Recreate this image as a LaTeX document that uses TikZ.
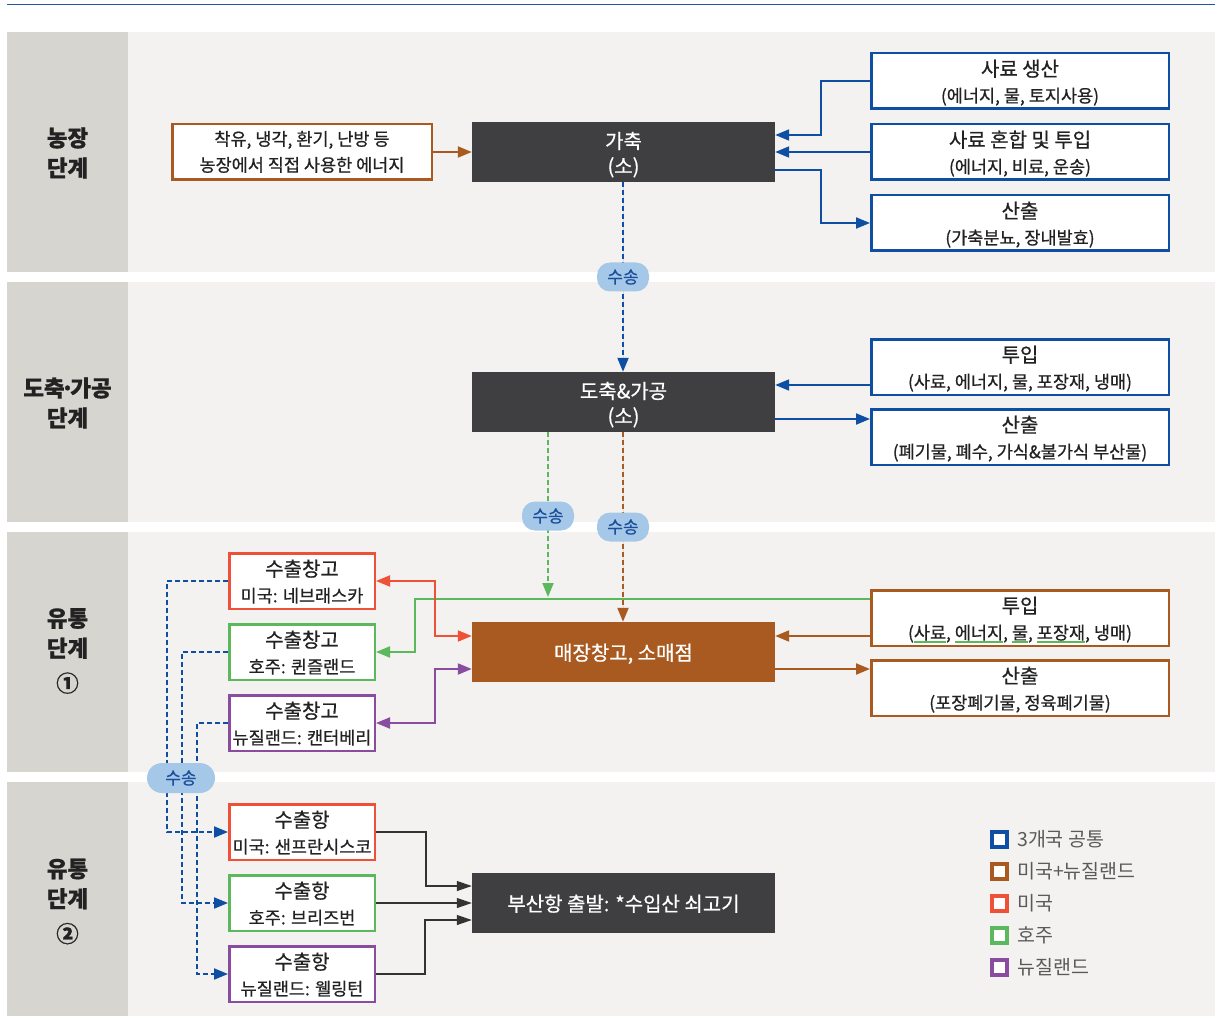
\documentclass[tikz,border=0pt]{standalone}
\usepackage{fontspec}
\setmainfont{Noto Sans CJK KR}[FakeBold=0.6]
\newfontfamily\lblfont{Noto Sans CJK KR}
\usetikzlibrary{arrows.meta}
\definecolor{cblue}{HTML}{0E4FA3}
\definecolor{cbrown}{HTML}{A95A20}
\definecolor{cred}{HTML}{EF5138}
\definecolor{cgreen}{HTML}{5CB85C}
\definecolor{cpurple}{HTML}{8A4C9E}
\definecolor{cdark}{HTML}{3F3F41}
\definecolor{lblbg}{HTML}{D7D5D0}
\definecolor{bandbg}{HTML}{F3F2F0}
\definecolor{pillbg}{HTML}{A6C8E8}
\definecolor{pilltx}{HTML}{1B4F9B}
\definecolor{topline}{HTML}{1F57A0}
\definecolor{txt}{HTML}{222222}
\definecolor{legtx}{HTML}{5A5A5A}
\newsavebox\gulbox
\newcommand\gul[1]{\sbox\gulbox{#1}\rlap{\textcolor{cgreen}{\rule[-4pt]{\wd\gulbox}{2.5pt}}}\usebox\gulbox}
\newcommand\ttl[1]{{\fontsize{20}{26}\selectfont\rule{0pt}{21.5pt}#1}}
\newcommand\bstrut{\rule[-5pt]{0pt}{5pt}}
\tikzset{
  wbox/.style={draw, line width=2.5pt, fill=white, align=center, inner sep=0pt, text=txt,
    font=\fontsize{17.5}{26}\selectfont},
  rbox/.style={wbox, minimum width=297.5pt, minimum height=55.5pt},
  sbox/.style={wbox, minimum width=145.5pt, minimum height=55.5pt},
  dbox/.style={fill=cdark, text=white, minimum width=303pt, minimum height=60pt, align=center,
    inner sep=0pt, font=\fontsize{20}{25}\selectfont},
  lbl/.style={align=center, text=txt, font=\fontsize{22.5}{30}\selectfont\bfseries},
  pill/.style={fill=pillbg, text=pilltx, rounded corners=13pt, minimum width=52pt, minimum height=29pt,
    inner sep=0pt, font=\fontsize{17}{18}\selectfont},
  arr/.style={line width=2pt, -{Triangle[length=14pt,width=11pt]}},
  darr/.style={line width=2pt, {Triangle[length=14pt,width=11pt]}-{Triangle[length=14pt,width=11pt]}},
  karr/.style={line width=1.2pt, draw=black!80, -{Triangle[length=15pt,width=10pt]}},
  dsh/.style={line width=2pt, dash pattern=on 5pt off 3pt, -{Triangle[length=14pt,width=11pt]}},
  legsq/.style={draw, line width=4pt, minimum size=15pt, inner sep=0pt},
  legt/.style={anchor=west, text=legtx, inner sep=0pt, font=\fontsize{19.5}{20}\selectfont}
}
\begin{document}
\begin{tikzpicture}[x=1pt,y=-1pt]
\useasboundingbox (0,0) rectangle (1215,1016);
\fill[white] (0,0) rectangle (1215,1016);
\draw[topline, line width=1pt] (7,5) -- (1215,5);
% bands
\foreach \a/\b in {32/272, 282/522, 532/772, 782/1016}{
  \fill[lblbg] (7,\a) rectangle (128,\b);
  \fill[bandbg] (128,\a) rectangle (1215,\b);
}
\node[lbl] (L1) at (67.5,153) {농장\\단계};
\node[lbl] (L2) at (67.5,403) {도축\kern-0.18em·\kern-0.18em가공\\단계};
\node[lbl] (L3) at (67.5,651) {유통\\단계\\[5pt]①};
\node[lbl] (L4) at (67.5,901.5) {유통\\단계\\[5pt]②};

% band 1
\node[rbox, draw=cbrown, minimum width=259.5pt] (farm) at (302,152) {\rule{0pt}{18pt}착유, 냉각, 환기, 난방 등\\농장에서 직접 사용한 에너지\bstrut};
\node[dbox] (live) at (623.5,152) {\rule{0pt}{23pt}가축\\(소)\bstrut};
\node[rbox, draw=cblue] (feedprod) at (1020,81) {\ttl{사료 생산}\\(에너지, 물, 토지사용)\bstrut};
\node[rbox, draw=cblue] (feedmix) at (1020,152) {\ttl{사료 혼합 및 투입}\\(에너지, 비료, 운송)\bstrut};
\node[rbox, draw=cblue] (out1) at (1020,223) {\ttl{산출}\\(가축분뇨, 장내발효)\bstrut};

% band 2
\node[dbox] (slaughter) at (623.5,402) {\rule{0pt}{23pt}도축\&가공\\(소)\bstrut};
\node[rbox, draw=cblue] (in2) at (1020,367) {\ttl{투입}\\(사료, 에너지, 물, 포장재, 냉매)\bstrut};
\node[rbox, draw=cblue] (out2) at (1020,437) {\ttl{산출}\\(폐기물, 폐수, 가식\&불가식 부산물)\bstrut};

% band 3
\node[dbox, fill=cbrown] (retail) at (623.5,652) {\rule{0pt}{21.5pt}매장창고, 소매점\bstrut};
\node[rbox, draw=cbrown] (in3) at (1020,618) {\ttl{투입}\\(\gul{사료}, \gul{에너지}, \gul{물}, \gul{포장재}, 냉매)\bstrut};
\node[rbox, draw=cbrown] (out3) at (1020,688) {\ttl{산출}\\(포장폐기물, 정육폐기물)\bstrut};
\node[sbox, draw=cred] (wh1) at (302,581) {\ttl{수출창고}\\미국: 네브래스카\bstrut};
\node[sbox, draw=cgreen] (wh2) at (302,652) {\ttl{수출창고}\\호주: 퀸즐랜드\bstrut};
\node[sbox, draw=cpurple] (wh3) at (302,723) {\ttl{수출창고}\\뉴질랜드: 캔터베리\bstrut};

% band 4
\node[sbox, draw=cred] (pt1) at (302,832) {\ttl{수출항}\\미국: 샌프란시스코\bstrut};
\node[sbox, draw=cgreen] (pt2) at (302,903) {\ttl{수출항}\\호주: 브리즈번\bstrut};
\node[sbox, draw=cpurple] (pt3) at (302,974) {\ttl{수출항}\\뉴질랜드: 웰링턴\bstrut};
\node[dbox] (busan) at (623.5,903) {\rule{0pt}{21.5pt}부산항 출발: *수입산 쇠고기\bstrut};

% connectors band 1
\draw[arr, cbrown] (farm.east) -- (live.west);
\draw[arr, cblue] (feedprod.west) -- (821,81) |- (live.east |- 0,135);
\draw[arr, cblue] (feedmix.west) -- (live.east);
\draw[arr, cblue] (live.east |- 0,170) -- (821,170) |- (out1.west);
\draw[dsh, draw=cblue, fill=cblue] (live.south -| 623,0) -- (slaughter.north -| 623,0);

% band 2
\draw[arr, cblue] (in2.west |- 0,385) -- (slaughter.east |- 0,385);
\draw[arr, cblue] (slaughter.east |- 0,419) -- (out2.west |- 0,419);
\coordinate (gtop) at (548,597);
\draw[dsh, draw=cgreen, fill=cgreen] (slaughter.south -| 548,0) -- (gtop);
\draw[dsh, draw=cbrown, fill=cbrown] (slaughter.south -| 623,0) -- (retail.north -| 623,0);

% band 3
\draw[arr, cbrown] (in3.west |- 0,636) -- (retail.east |- 0,636);
\draw[arr, cbrown] (retail.east |- 0,669) -- (out3.west |- 0,669);
\draw[arr, cgreen] (in3.west |- 0,599) -- (415,599) |- (wh2.east);
\draw[darr, cred] (wh1.east) -- (435,581) |- (retail.west |- 0,636);
\draw[darr, cpurple] (wh3.east) -- (435,723) |- (retail.west |- 0,669);

\draw[dsh, cblue] (wh1.west) -- (167,581) |- (pt1.west);
\draw[dsh, cblue] (wh2.west) -- (182,652) |- (pt2.west);
\draw[dsh, cblue] (wh3.west) -- (197,723) |- (pt3.west);

% band 4
\draw[karr] (pt1.east) -- (426,832) |- (busan.west |- 0,886);
\draw[karr] (pt2.east) -- (busan.west);
\draw[karr] (pt3.east) -- (425,974) |- (busan.west |- 0,920);

% pills
\node[pill] (p1) at (623,277) {수송};
\node[pill] (p2) at (548,516) {수송};
\node[pill] (p3) at (623,527) {수송};
\node[pill, minimum width=68pt, minimum height=30pt, rounded corners=15pt] (p4) at (181,778) {수송};

% legend
\foreach \c/\t/\y [count=\i] in {cblue/3개국 공통/839, cbrown/미국+뉴질랜드/871, cred/미국/903, cgreen/호주/935, cpurple/뉴질랜드/967}{
  \node[legsq, draw=\c, fill=white] (sq\i) at (999.5,\y) {};
  \node[legt] (lt\i) at (1017,\y) {\lblfont\t};
}
\end{tikzpicture}
\end{document}
